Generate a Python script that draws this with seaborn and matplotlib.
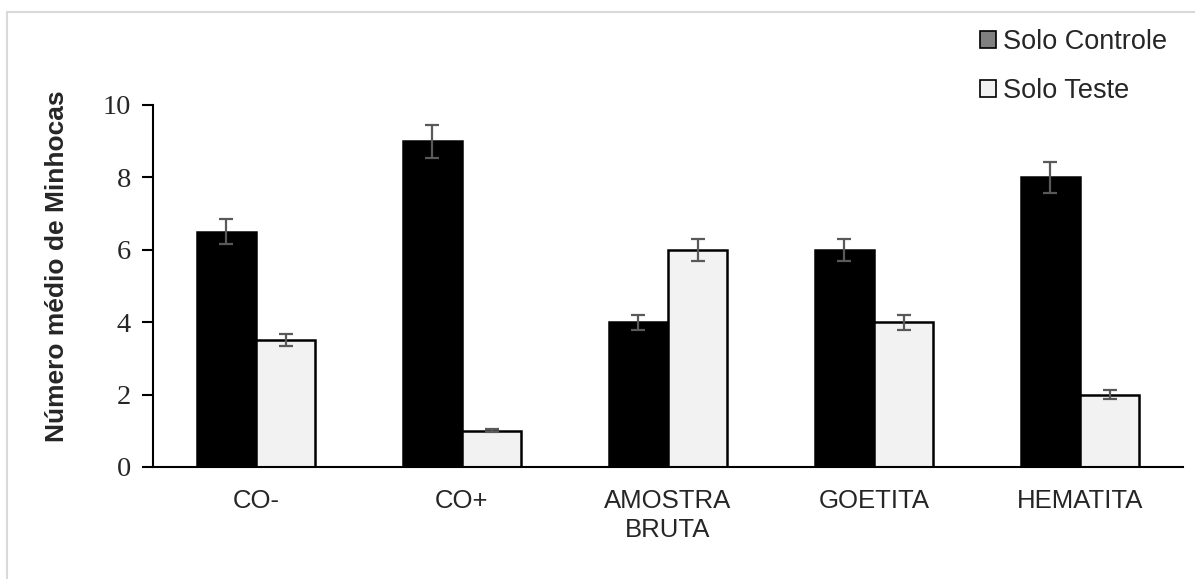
import matplotlib
matplotlib.use('Agg')
import matplotlib.pyplot as plt
import pandas as pd
import seaborn as sns
from matplotlib.patches import Patch, Rectangle

# dados
categorias = ['CO-', 'CO+', 'AMOSTRA\nBRUTA', 'GOETITA', 'HEMATITA']
solo_controle = [6.5, 9.0, 4.0, 6.0, 8.0]
erro_controle = [0.34, 0.46, 0.21, 0.30, 0.43]
solo_teste = [3.5, 1.0, 6.0, 4.0, 2.0]
erro_teste = [0.17, 0.04, 0.30, 0.21, 0.12]
series = ['Solo Controle', 'Solo Teste']
yticks = [0, 2, 4, 6, 8, 10]

df = pd.DataFrame({
    'categoria': categorias * 2,
    'serie': [series[0]] * len(categorias) + [series[1]] * len(categorias),
    'valor': solo_controle + solo_teste,
})

sns.set_style('white')
fig = plt.figure(figsize=(11.95, 5.79), dpi=100)
ax = fig.add_axes([153 / 1195, 1 - 467 / 579, 1030 / 1195, 362 / 579])

sns.barplot(data=df, x='categoria', y='valor', hue='serie', order=categorias,
            hue_order=series, palette={series[0]: '#000000', series[1]: '#f2f2f2'},
            width=0.575, errorbar=None, edgecolor='#000000', linewidth=1.8,
            legend=False, ax=ax)

# barras de erro
for cont, erros in zip(ax.containers, [erro_controle, erro_teste]):
    xs = [b.get_x() + b.get_width() / 2 for b in cont]
    hs = [b.get_height() for b in cont]
    ax.errorbar(xs, hs, yerr=erros, fmt='none', ecolor='#595959',
                elinewidth=1.6, capsize=5, capthick=1.6, zorder=5)

ax.set_ylim(0, 10)
ax.set_xlim(-0.5, len(categorias) - 0.5)
ax.set_yticks(yticks)
ax.set_yticklabels([str(v) for v in yticks], family='Liberation Serif', fontsize=20.5)
ax.set_xticks(range(len(categorias)))
ax.set_xticklabels(categorias, family='Liberation Sans', fontsize=18.5, linespacing=1.25)
ax.tick_params(axis='y', length=8, width=1.5, color='black', direction='out', pad=8, left=True)
ax.tick_params(axis='x', length=0, pad=16)
ax.set_xlabel('')
ax.set_ylabel('Número médio de Minhocas', family='Liberation Sans', fontweight='bold',
              fontsize=19, va='center')
ax.yaxis.set_label_coords(-0.093, 0.555)
sns.despine(ax=ax)
for s in ['left', 'bottom']:
    ax.spines[s].set_color('black')
    ax.spines[s].set_linewidth(1.5)

# legenda
handles = [Patch(facecolor='#808080', edgecolor='black', linewidth=1.2),
           Patch(facecolor='#f2f2f2', edgecolor='black', linewidth=1.2)]
fig.legend(handles, series, loc='upper left', bbox_to_anchor=(980 / 1195, 1 - 29 / 579),
           frameon=False, prop={'family': 'Liberation Sans', 'size': 19.5},
           handlelength=0.6, handleheight=0.6, handletextpad=0.25,
           labelspacing=0.85, borderaxespad=0, borderpad=0)

# borda da área do gráfico
fig.add_artist(Rectangle((7 / 1195, -0.1), 1.1, 1.1 - 12 / 579, transform=fig.transFigure,
                         fill=False, edgecolor='#d9d9d9', linewidth=1.5))

fig.savefig('out.png', dpi=100)
